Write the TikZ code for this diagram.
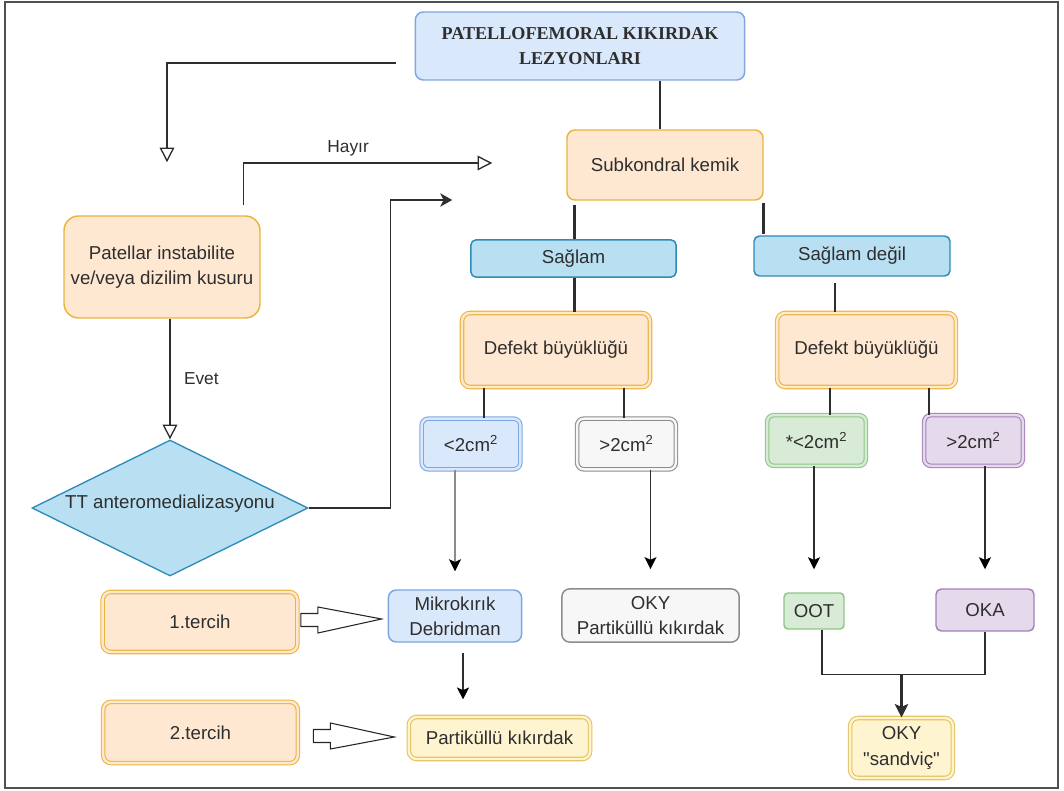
\documentclass[tikz,border=0pt]{standalone}
\usepackage{fontspec}
\setmainfont{Liberation Sans}[Ligatures=TeXOff]
\newfontfamily\titlefont{Liberation Serif}
\usetikzlibrary{shapes.geometric,arrows.meta,calc,positioning}

\definecolor{bluefill}{HTML}{DAE8FC}
\definecolor{blueline}{HTML}{7EA6E0}
\definecolor{orangefill}{HTML}{FFE8D2}
\definecolor{orangeline}{HTML}{EBB43C}
\definecolor{sagfill}{HTML}{B9E0F2}
\definecolor{sagline}{HTML}{2E8AB8}
\definecolor{grayfill}{HTML}{F6F7F6}
\definecolor{grayline}{HTML}{8C8C8C}
\definecolor{greenfill}{HTML}{D8EBD6}
\definecolor{greenline}{HTML}{8CC783}
\definecolor{purplefill}{HTML}{E5DAEC}
\definecolor{purpleline}{HTML}{A580B8}
\definecolor{yellowfill}{HTML}{FFF4D0}
\definecolor{yellowline}{HTML}{E2C25E}
\definecolor{framegray}{HTML}{505050}

% fat white arrow between a start point and a tip
\newcommand{\fatarrow}[2]{%
  \draw[line width=0.8pt, black!85, fill=white]
    ($(#1)+(0,-6.5)$) -- ($(#1)+(17,-6.5)$) -- ($(#1)+(17,-13)$) -- (#2)
    -- ($(#1)+(17,13)$) -- ($(#1)+(17,6.5)$) -- ($(#1)+(0,6.5)$) -- cycle;}

\begin{document}
\begin{tikzpicture}[
    x=0.75pt, y=-0.75pt,
    every node/.style={font=\fontsize{14}{19}\selectfont, align=center, inner sep=2pt, text=black!82},
    box/.style={rectangle, rounded corners=6pt, draw=orangeline, fill=orangefill, line width=1.1pt},
    dbox/.style={box, double=orangefill, double distance=1.8pt, line width=0.8pt},
    titlebox/.style={box, draw=blueline, fill=bluefill, minimum width=247pt, minimum height=51pt,
                     font=\titlefont\bfseries\fontsize{13.6}{19}\selectfont},
    sbox/.style={rectangle, rounded corners=4pt, draw=sagline, fill=sagfill, line width=1.1pt, minimum height=28pt},
    sizebox/.style={dbox, rounded corners=5pt, minimum width=74pt, minimum height=38pt},
    decision/.style={diamond, draw=sagline, fill=sagfill, line width=1pt, minimum width=207pt, minimum height=102pt, inner sep=0pt},
    conn/.style={draw=black!82, line width=1pt},
    thickconn/.style={draw=black!82, line width=2.2pt},
    tipconn/.style={conn, -{Stealth[length=9pt, width=9pt, inset=2pt, color=black]}},
    openconn/.style={conn, -{Triangle[open, length=11pt, width=11pt, fill=white]}},
    lbl/.style={font=\fontsize{13}{15}\selectfont}
]
\path[use as bounding box] (0,0) rectangle (1064,791);
\draw[framegray, line width=0.8pt] (5,2) rectangle (1058,788);

% Top of the tree
\node (title) [titlebox] at (580,46) {PATELLOFEMORAL KIKIRDAK\\LEZYONLARI};
\node (subk) [box, minimum width=147pt, minimum height=52.5pt] at (665,165) {Subkondral kemik};

% Second level
\node (sag) [sbox, minimum width=154pt] at (573.5,258.5) {Sağlam};
\node (sdeg) [sbox, minimum width=147pt, minimum height=30pt] at (852,256) {Sağlam değil};

% Defect size
\node (defL) [dbox, minimum width=141pt, minimum height=55.5pt] at (556,350) {Defekt büyüklüğü};
\node (defR) [dbox, minimum width=134pt, minimum height=55.5pt] at (866.5,350) {Defekt büyüklüğü};

% Size classes
\node (kucukL) [sizebox, draw=blueline, fill=bluefill, double=bluefill] at (471,444) {<2cm\textsuperscript{2}};
\node (buyukL) [sizebox, draw=grayline, fill=grayfill, double=grayfill] at (626.5,444) {>2cm\textsuperscript{2}};
\node (kucukR) [sizebox, draw=greenline, fill=greenfill, double=greenfill] at (816.5,440.5) {*<2cm\textsuperscript{2}};
\node (buyukR) [sizebox, draw=purpleline, fill=purplefill, double=purplefill] at (973.5,440.5) {>2cm\textsuperscript{2}};

% Treatments
\node (mikro) [box, draw=blueline, fill=bluefill, minimum width=100pt, minimum height=39pt] at (455,616) {Mikrokırık\\Debridman};
\node (okyp) [box, draw=grayline, fill=grayfill, minimum width=133pt, minimum height=40pt] at (650.5,615.5) {OKY\\Partiküllü kıkırdak};
\node (oot) [box, rounded corners=3pt, draw=greenline, fill=greenfill, minimum width=45pt, minimum height=27pt] at (814,611) {OOT};
\node (oka) [box, rounded corners=4pt, draw=purpleline, fill=purplefill, minimum width=73.5pt, minimum height=31.5pt] at (985,610) {OKA};
\node (okys) [dbox, draw=yellowline, fill=yellowfill, double=yellowfill, minimum width=77pt, minimum height=45pt] at (901.5,748) {OKY\\"sandviç"};
\node (partik) [dbox, draw=yellowline, fill=yellowfill, double=yellowfill, minimum width=136pt, minimum height=31.5pt] at (499.5,738) {Partiküllü kıkırdak};

% Preferences
\node (t1) [dbox, minimum width=146pt, minimum height=45pt] at (200,622) {1.tercih};
\node (t2) [dbox, minimum width=146pt, minimum height=46pt] at (200.5,732.5) {2.tercih};

% Left branch
\node (pat) [box, rounded corners=11pt, minimum width=147pt, minimum height=76.5pt] at (162,267) {Patellar instabilite\\ve/veya dizilim kusuru};
\node (tt) [decision, label={[yshift=3pt]center:TT anteromedializasyonu}] at (170,508) {};

% Tree lines
\draw[conn] ($(title.south)+(80,0)$) -- ($(subk.north)+(-5,0)$);
\coordinate (s1) at ($(subk.south west)+(8,4)$);
\draw[thickconn] (s1) -- (s1 |- sag.north);
\draw[thickconn] ($(subk.south east)+(0,2)$) -- ++(0,31);
\draw[thickconn] (sag.south -| s1) -- (defL.north -| s1);
\coordinate (s2) at ($(sdeg.south)+(-17,6)$);
\draw[thickconn] (s2) -- (s2 |- defR.north);

\coordinate (kL) at ($(kucukL.north)+(13,0)$);
\coordinate (bL) at ($(buyukL.north)+(-2.5,0)$);
\coordinate (kR) at ($(kucukR.north)+(13.5,0)$);
\coordinate (bR) at ($(buyukR.north)+(-44.5,0)$);
\draw[thickconn] (kL |- defL.south) -- (kL);
\draw[thickconn] (bL |- defL.south) -- (bL);
\draw[thickconn] (kR |- defR.south) -- (kR);
\draw[thickconn] (bR |- defR.south) -- (bR);

% Down to treatments
\draw[tipconn, draw=black!45] (kucukL.south -| mikro.north) -- ($(mikro.north)+(0,-18)$);
\draw[tipconn] (buyukL.south -| okyp.north) -- ($(okyp.north)+(0,-19)$);
\draw[tipconn] (kucukR.south -| oot.north) -- ($(oot.north)+(0,-23)$);
\draw[tipconn] (buyukR.south -| oka.north) -- ($(oka.north)+(0,-19)$);

\coordinate (m1) at ($(mikro.south)+(8,10)$);
\draw[tipconn] (m1) -- ($(m1 |- partik.north)+(0,-17)$);

\coordinate (j) at ($(oot.south)+(8,45)$);
\draw[conn] ($(oot.south)+(8,0)$) -- (j) -| (oka.south);
\draw[thickconn, -{Stealth[length=10pt, width=10pt, inset=2pt]}] (j -| okys.north) -- (okys.north);

% Preference arrows
\coordinate (f1) at ($(t1.east)+(3,-2)$);
\coordinate (f1tip) at ($(mikro.west)+(-6,3)$);
\fatarrow{f1}{f1tip}
\coordinate (f2) at ($(t2.east)+(15,3.5)$);
\coordinate (f2tip) at ($(partik.west)+(-14,-1)$);
\fatarrow{f2}{f2tip}

% Left branch connectors
\draw[openconn] ($(title.west)+(-19,17)$) -| ($(pat.north)+(5,-53)$);
\draw[openconn] ($(pat.north east)+(-17,-10)$) |- node[lbl, pos=0.71, above, yshift=3pt] {Hayır} ($(subk.west)+(-74,-2)$);
\draw[openconn] (tt.north |- pat.south) -- node[lbl, right, xshift=8pt] {Evet} (tt.north);
\draw[conn, -{Stealth[length=9pt, width=10pt, inset=2.5pt]}] (tt.east) -- ++(82,0) |- ($(subk.west)+(-114,35)$);

\end{tikzpicture}
\end{document}
